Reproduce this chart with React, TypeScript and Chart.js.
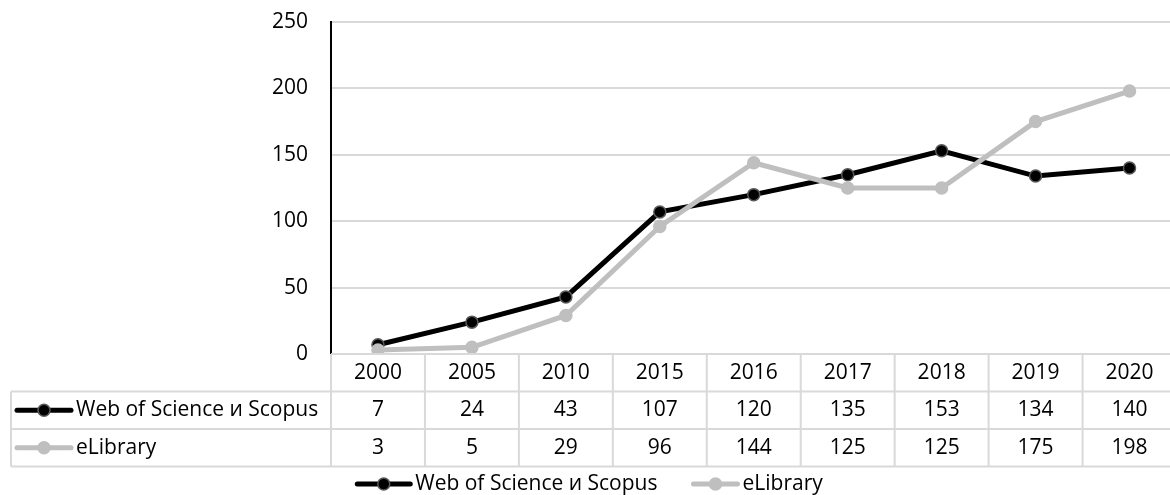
import React, { useEffect, useRef } from "react";
import { Chart, registerables } from "chart.js";

Chart.register(...registerables);

const categories = ["2000", "2005", "2010", "2015", "2016", "2017", "2018", "2019", "2020"];
const wosScopus = [7, 24, 43, 107, 120, 135, 153, 134, 140];
const eLibrary = [3, 5, 29, 96, 144, 125, 125, 175, 198];
const seriesNames = ["Web of Science и Scopus", "eLibrary"];
const yTicks = [0, 50, 100, 150, 200, 250];

const FONT = "'Open Sans', 'Noto Sans', sans-serif";
const FONT_SIZE = 21;
const TEXT = "#000000";
const GRID = "#d9d9d9";
const BLACK = "#000000";
const BLACK_BORDER = "#595959";
const GRAY = "#bfbfbf";

const CANVAS_W = 1184;
const CANVAS_H = 495;

function drawIcon(ctx: CanvasRenderingContext2D, x: number, y: number, w: number, color: string, border: string) {
  ctx.save();
  ctx.strokeStyle = color;
  ctx.lineWidth = 5;
  ctx.lineCap = "round";
  ctx.beginPath();
  ctx.moveTo(x + 2, y);
  ctx.lineTo(x + w - 2, y);
  ctx.stroke();
  ctx.beginPath();
  ctx.arc(x + w / 2, y, 6, 0, Math.PI * 2);
  ctx.fillStyle = color;
  ctx.fill();
  ctx.lineWidth = 1.5;
  ctx.strokeStyle = border;
  ctx.stroke();
  ctx.restore();
}

const tablePlugin = {
  id: "dataTable",
  afterDraw(chart: any) {
    const ctx: CanvasRenderingContext2D = chart.ctx;
    const area = chart.chartArea;
    const xs = chart.scales.x;
    const n = categories.length;
    const cellW = (area.right - area.left) / n;
    const top = area.bottom;
    const rowH = 37.5;
    const tableLeft = 11;
    const rows = [top, top + rowH, top + 2 * rowH, top + 3 * rowH];

    ctx.save();
    ctx.strokeStyle = GRID;
    ctx.lineWidth = 2;
    ctx.beginPath();
    ctx.moveTo(area.left, rows[0]);
    ctx.lineTo(area.right, rows[0]);
    for (let r = 1; r < rows.length; r++) {
      ctx.moveTo(tableLeft, rows[r]);
      ctx.lineTo(area.right, rows[r]);
    }
    for (let i = 0; i <= n; i++) {
      const x = area.left + i * cellW;
      ctx.moveTo(x, rows[0]);
      ctx.lineTo(x, rows[3]);
    }
    ctx.moveTo(tableLeft, rows[1]);
    ctx.lineTo(tableLeft, rows[3]);
    ctx.stroke();

    ctx.fillStyle = TEXT;
    ctx.font = `${FONT_SIZE}px ${FONT}`;
    ctx.textAlign = "center";
    ctx.textBaseline = "middle";
    const data = [wosScopus, eLibrary];
    for (let i = 0; i < n; i++) {
      const cx = xs.getPixelForValue(i);
      ctx.fillText(categories[i], cx, (rows[0] + rows[1]) / 2);
      for (let s = 0; s < 2; s++) {
        ctx.fillText(String(data[s][i]), cx, (rows[s + 1] + rows[s + 2]) / 2);
      }
    }
    ctx.textAlign = "left";
    const colors = [[BLACK, BLACK_BORDER], [GRAY, GRAY]];
    for (let s = 0; s < 2; s++) {
      const cy = (rows[s + 1] + rows[s + 2]) / 2;
      drawIcon(ctx, 15, cy, 58, colors[s][0], colors[s][1]);
      ctx.fillStyle = TEXT;
      ctx.fillText(seriesNames[s], 76, cy);
    }

    const ly = 484;
    const iconW = 57;
    const iconW2 = 48;
    const gap = 34;
    const w0 = ctx.measureText(seriesNames[0]).width;
    const w1 = ctx.measureText(seriesNames[1]).width;
    const total = iconW + 3 + w0 + gap + iconW2 + 3 + w1;
    let x = 589 - total / 2;
    drawIcon(ctx, x, ly, iconW, BLACK, BLACK_BORDER);
    x += iconW + 3;
    ctx.fillStyle = TEXT;
    ctx.fillText(seriesNames[0], x, ly);
    x += w0 + gap;
    drawIcon(ctx, x, ly, iconW2, GRAY, GRAY);
    x += iconW2 + 3;
    ctx.fillStyle = TEXT;
    ctx.fillText(seriesNames[1], x, ly);
    ctx.restore();
  },
};

export default function App() {
  const ref = useRef<HTMLCanvasElement | null>(null);
  useEffect(() => {
    if (!ref.current) return;
    const chart = new Chart(ref.current, {
      type: "line",
      data: {
        labels: categories,
        datasets: [
          {
            label: seriesNames[0],
            data: wosScopus,
            borderColor: BLACK,
            backgroundColor: BLACK,
            borderWidth: 5,
            pointRadius: 6,
            pointBackgroundColor: BLACK,
            pointBorderColor: BLACK_BORDER,
            pointBorderWidth: 1.5,
            tension: 0,
            order: 1,
          },
          {
            label: seriesNames[1],
            data: eLibrary,
            borderColor: GRAY,
            backgroundColor: GRAY,
            borderWidth: 5,
            pointRadius: 6,
            pointBackgroundColor: GRAY,
            pointBorderColor: GRAY,
            pointBorderWidth: 1.5,
            tension: 0,
            order: 0,
          },
        ],
      },
      options: {
        animation: false,
        responsive: false,
        maintainAspectRatio: false,
        layout: { padding: { top: 22, right: 2, bottom: 0, left: 0 } },
        plugins: { legend: { display: false }, tooltip: { enabled: false } },
        scales: {
          x: {
            offset: true,
            grid: { display: false },
            border: { display: false },
            ticks: { display: false },
            afterFit: (scale: any) => {
              scale.height = 141;
              scale.paddingLeft = 0;
              scale.paddingRight = 0;
            },
          },
          y: {
            min: 0,
            max: 250,
            afterBuildTicks: (scale: any) => {
              scale.ticks = yTicks.map((v) => ({ value: v }));
            },
            grid: { color: GRID, lineWidth: 2, drawTicks: false },
            border: { display: true, color: "#000", width: 2 },
            ticks: {
              padding: 23,
              color: TEXT,
              font: { family: FONT, size: FONT_SIZE },
            },
            afterFit: (scale: any) => {
              scale.width = 331;
              scale.paddingTop = 0;
              scale.paddingBottom = 0;
            },
          },
        },
      },
      plugins: [tablePlugin],
    });
    return () => chart.destroy();
  }, []);
  return (
    <div style={{ position: "fixed", left: 0, top: 0, width: 1170, height: 495, overflow: "hidden", background: "#fff" }}>
      <canvas ref={ref} width={CANVAS_W} height={CANVAS_H} style={{ width: CANVAS_W, height: CANVAS_H, display: "block" }} />
    </div>
  );
}
